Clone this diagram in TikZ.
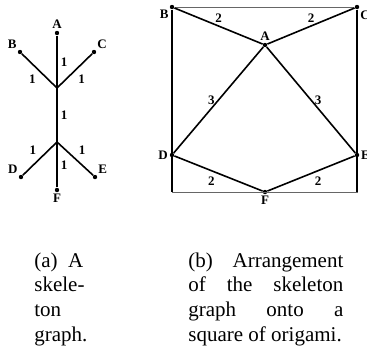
\documentclass[tikz,border=0pt]{standalone}
\usepackage{fontspec}
\setmainfont{Liberation Serif}
\begin{document}
\begin{tikzpicture}[x=0.5pt, y=-0.5pt,
    vertex/.style={circle, fill=black, inner sep=0pt, minimum size=2.2pt},
    lbl/.style={font=\fontsize{6.5}{7}\selectfont\bfseries, inner sep=0.6pt},
    elbl/.style={font=\fontsize{6.5}{7}\selectfont\bfseries, inner sep=1.5pt},
    edge/.style={line width=0.8pt},
    caption/.style={font=\fontsize{10.5}{12.3}\selectfont, align=left, inner sep=0pt, anchor=base west}]
    \useasboundingbox (0,0) rectangle (367,349);

    % Skeleton graph
    \node[vertex, label={[lbl]above:A}] (sA) at (57,33) {};
    \node[vertex, label={[lbl]above left:B}] (sB) at (20,52) {};
    \node[vertex, label={[lbl]above right:C}] (sC) at (94,52) {};
    \node[vertex, label={[lbl]above left:D}] (sD) at (21,177) {};
    \node[vertex, label={[lbl]above right:E}] (sE) at (95,177) {};
    \node[vertex, label={[lbl]below:F}] (sF) at (57,190) {};
    \coordinate (up) at (57,88);
    \coordinate (lo) at (57,142);
    \draw[edge] (sA) -- node[elbl, right] {1} (up);
    \draw[edge] (sB) -- node[elbl, below left] {1} (up);
    \draw[edge] (sC) -- node[elbl, below right] {1} (up);
    \draw[edge] (up) -- node[elbl, right] {1} (lo);
    \draw[edge] (sD) -- node[elbl, above left] {1} (lo);
    \draw[edge] (sE) -- node[elbl, above right] {1} (lo);
    \draw[edge] (sF) -- node[elbl, right] {1} (lo);

    % Square of origami
    \coordinate (bl) at (172,192);
    \coordinate (br) at (357,192);
    \node[vertex, label={[lbl]below left:B}] (qB) at (172,7) {};
    \node[vertex, label={[lbl]below right:C}] (qC) at (357,7) {};
    \node[vertex, label={[lbl]above:A}] (qA) at (265,45) {};
    \node[vertex, label={[lbl]left:D}] (qD) at (172,155) {};
    \node[vertex, label={[lbl]right:E}] (qE) at (357,155) {};
    \node[vertex, label={[lbl]below:F}] (qF) at (265,192) {};
    \draw[line width=0.5pt, black!60] (qB) -- (qC) -- (br) -- (bl);
    \draw[line width=0.7pt] (qC) -- (br);
    \draw[edge] (qB) -- (bl);
    \draw[edge] (qB) -- node[elbl, above] {2} (qA);
    \draw[edge] (qC) -- node[elbl, above] {2} (qA);
    \draw[edge] (qA) -- node[elbl, left] {3} (qD);
    \draw[edge] (qA) -- node[elbl, right] {3} (qE);
    \draw[edge] (qD) -- node[elbl, below left] {2} (qF);
    \draw[edge] (qF) -- node[elbl, below right] {2} (qE);

    % Captions
    \node[caption] (capa) at (34,341) {\makebox[24.5pt][s]{(a) A}\\skele-\\ton\\graph.};
    \node[caption] (capb) at (188,341) {\makebox[77.5pt][s]{(b) Arrangement}\\
        \makebox[77.5pt][s]{of the skeleton}\\
        \makebox[77.5pt][s]{graph onto a}\\
        square of origami.};
\end{tikzpicture}
\end{document}
